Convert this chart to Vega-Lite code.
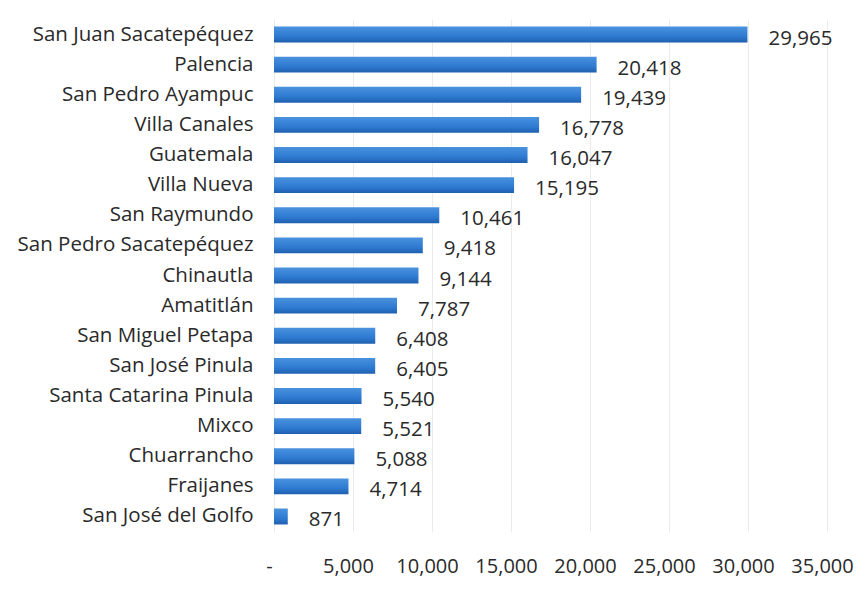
{
  "$schema": "https://vega.github.io/schema/vega-lite/v6.json",
  "autosize": {"type": "none"},
  "width": 553,
  "height": 513,
  "padding": {"left": 274, "top": 19, "right": 30, "bottom": 76},
  "background": "white",
  "config": {"view": {"stroke": null}, "font": "Open Sans"},
  "data": {"values": [
    {"municipio": "San Juan Sacatepéquez", "valor": 29965},
    {"municipio": "Palencia", "valor": 20418},
    {"municipio": "San Pedro Ayampuc", "valor": 19439},
    {"municipio": "Villa Canales", "valor": 16778},
    {"municipio": "Guatemala", "valor": 16047},
    {"municipio": "Villa Nueva", "valor": 15195},
    {"municipio": "San Raymundo", "valor": 10461},
    {"municipio": "San Pedro Sacatepéquez", "valor": 9418},
    {"municipio": "Chinautla", "valor": 9144},
    {"municipio": "Amatitlán", "valor": 7787},
    {"municipio": "San Miguel Petapa", "valor": 6408},
    {"municipio": "San José Pinula", "valor": 6405},
    {"municipio": "Santa Catarina Pinula", "valor": 5540},
    {"municipio": "Mixco", "valor": 5521},
    {"municipio": "Chuarrancho", "valor": 5088},
    {"municipio": "Fraijanes", "valor": 4714},
    {"municipio": "San José del Golfo", "valor": 871}
  ]},
  "encoding": {
    "y": {
      "field": "municipio", "type": "nominal", "sort": null,
      "scale": {"paddingInner": 0.47, "paddingOuter": 0.25},
      "axis": {"title": null, "domain": false, "ticks": false, "labelFontSize": 20.5, "labelColor": "#2a2a2a", "labelPadding": 21, "labelLimit": 300}
    },
    "x": {
      "field": "valor", "type": "quantitative",
      "scale": {"domain": [0, 35000], "nice": false},
      "axis": {"title": null, "domain": false, "ticks": false, "values": [0, 5000, 10000, 15000, 20000, 25000, 30000, 35000], "labelOverlap": false, "labelFlush": false, "labelBound": false, "labelOffset": -5, "labelExpr": "datum.value == 0 ? '-' : format(datum.value, ',.0f')", "labelFontSize": 20, "labelColor": "#2a2a2a", "labelPadding": 24, "grid": true, "gridColor": "#ebebeb", "gridWidth": 1}
    }
  },
  "layer": [
    {
      "mark": {"type": "bar", "color": {"gradient": "linear", "x1": 0, "y1": 0, "x2": 0, "y2": 1, "stops": [{"offset": 0, "color": "#4a92de"}, {"offset": 0.6, "color": "#2f7bd2"}, {"offset": 1, "color": "#1f5fae"}]}}
    },
    {
      "mark": {"type": "text", "align": "left", "baseline": "middle", "dx": 21, "dy": 4, "fontSize": 20.5, "color": "#2a2a2a"},
      "encoding": {"text": {"field": "valor", "type": "quantitative", "format": ","}}
    }
  ]
}
